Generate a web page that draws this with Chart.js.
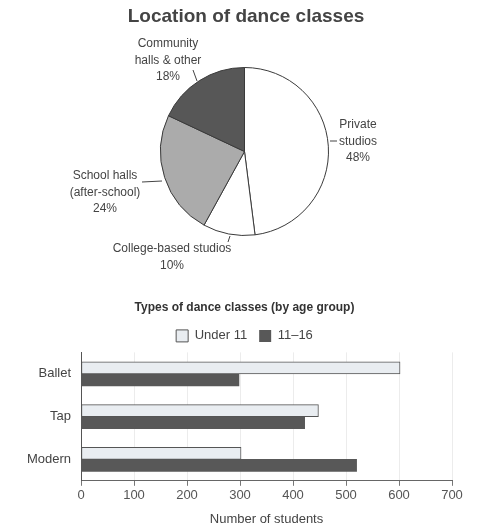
<!DOCTYPE html>
<html>
<head>
<meta charset="utf-8">
<script src="https://cdn.jsdelivr.net/npm/chart.js@4"></script>
<style>
html,body{margin:0;padding:0;background:#fff;}
#wrap{position:relative;width:489px;height:531px;overflow:hidden;}
#pie{position:absolute;left:0;top:0;}
#bar{position:absolute;left:0;top:285px;}
</style>
</head>
<body>
<div id="wrap">
<canvas id="pie" width="489" height="280"></canvas>
<canvas id="bar" width="489" height="246"></canvas>
</div>
<script>
// ---- Data ----
const pieTitle = 'Location of dance classes';
const pieLabels = ['Private studios', 'College-based studios', 'School halls (after-school)', 'Community halls & other'];
const pieValues = [48, 10, 24, 18];
const pieLabelLines = [
  ['Private', 'studios', '48%'],
  ['College-based studios', '10%'],
  ['School halls', '(after-school)', '24%'],
  ['Community', 'halls & other', '18%']
];
const pieColors = ['#ffffff', '#ffffff', '#ababab', '#575757'];

const barTitle = 'Types of dance classes (by age group)';
const danceTypes = ['Ballet', 'Tap', 'Modern'];
const under11 = [602, 448, 302];
const age11to16 = [298, 422, 520];
const seriesNames = ['Under 11', '11\u201316'];
const xTicks = [0, 100, 200, 300, 400, 500, 600, 700];

Chart.defaults.font.family = 'Liberation Sans, Arial, sans-serif';
Chart.defaults.color = '#444';
Chart.defaults.animation = false;
Chart.defaults.devicePixelRatio = 1;

const pieLabelPos = [
  {x: 358, y: 125, line: [[330, 141], [337, 141]]},
  {x: 172, y: 249, line: [[230, 236], [228, 242]]},
  {x: 105, y: 176, line: [[162, 181], [142, 182]]},
  {x: 168, y: 44,  line: [[197, 81], [193, 70]]}
];

const pieTextPlugin = {
  id: 'pieText',
  afterDraw(chart) {
    const ctx = chart.ctx;
    ctx.save();
    ctx.fillStyle = '#444';
    ctx.textAlign = 'center';
    ctx.textBaseline = 'middle';
    ctx.font = 'bold 19px Liberation Sans, Arial, sans-serif';
    ctx.fillText(pieTitle, 246, 17);
    ctx.font = '12px Liberation Sans, Arial, sans-serif';
    pieLabelLines.forEach((lines, i) => {
      const p = pieLabelPos[i];
      lines.forEach((t, j) => ctx.fillText(t, p.x, p.y + j * 16.3));
      ctx.strokeStyle = '#444';
      ctx.lineWidth = 1;
      ctx.beginPath();
      ctx.moveTo(p.line[0][0], p.line[0][1]);
      ctx.lineTo(p.line[1][0], p.line[1][1]);
      ctx.stroke();
    });
    ctx.restore();
  }
};

new Chart(document.getElementById('pie'), {
  type: 'pie',
  data: {
    labels: pieLabels,
    datasets: [{
      data: pieValues,
      backgroundColor: pieColors,
      borderColor: '#3a3a3a',
      borderWidth: 1
    }]
  },
  options: {
    responsive: false,
    layout: {padding: {top: 67, bottom: 44, left: 0, right: 0}},
    plugins: {legend: {display: false}, title: {display: false}, tooltip: {enabled: false}}
  },
  plugins: [pieTextPlugin]
});

new Chart(document.getElementById('bar'), {
  type: 'bar',
  data: {
    labels: danceTypes,
    datasets: [
      {label: seriesNames[0], data: under11, backgroundColor: '#e9edf1', borderColor: '#555', borderWidth: 1, borderSkipped: false, barThickness: 12, categoryPercentage: 0.6, barPercentage: 1},
      {label: seriesNames[1], data: age11to16, backgroundColor: '#585858', borderColor: '#585858', borderWidth: 0, barThickness: 12, categoryPercentage: 0.6, barPercentage: 1}
    ]
  },
  options: {
    indexAxis: 'y',
    responsive: false,
    layout: {padding: {left: 0, right: 0, top: 4, bottom: 0}},
    plugins: {
      tooltip: {enabled: false},
      title: {display: true, text: barTitle, font: {size: 12, weight: 'bold'}, color: '#333', padding: {top: 11, bottom: 3}},
      legend: {
        display: true,
        labels: {boxWidth: 12, boxHeight: 12, font: {size: 13}, color: '#444', padding: 12}
      }
    },
    scales: {
      x: {
        min: 0, max: 700,
        afterBuildTicks(scale) { scale.ticks = xTicks.map(v => ({value: v})); },
        ticks: {font: {size: 13}, color: '#555', padding: 2},
        grid: {color: '#ececec', tickColor: '#777', tickLength: 5, drawTicks: true},
        border: {color: '#666'},
        title: {display: true, text: 'Number of students', font: {size: 13}, color: '#444', padding: {top: 6}}
      },
      y: {
        afterFit(scale) { scale.width = 81; },
        ticks: {font: {size: 13}, color: '#444', padding: 10},
        grid: {display: false, drawTicks: false},
        border: {display: true, color: '#555'}
      },
      yRight: {
        type: 'category',
        position: 'right',
        afterFit(scale) { scale.width = 37; },
        ticks: {display: false},
        grid: {display: false, drawTicks: false},
        border: {display: false}
      }
    }
  }
});
</script>
</body>
</html>
